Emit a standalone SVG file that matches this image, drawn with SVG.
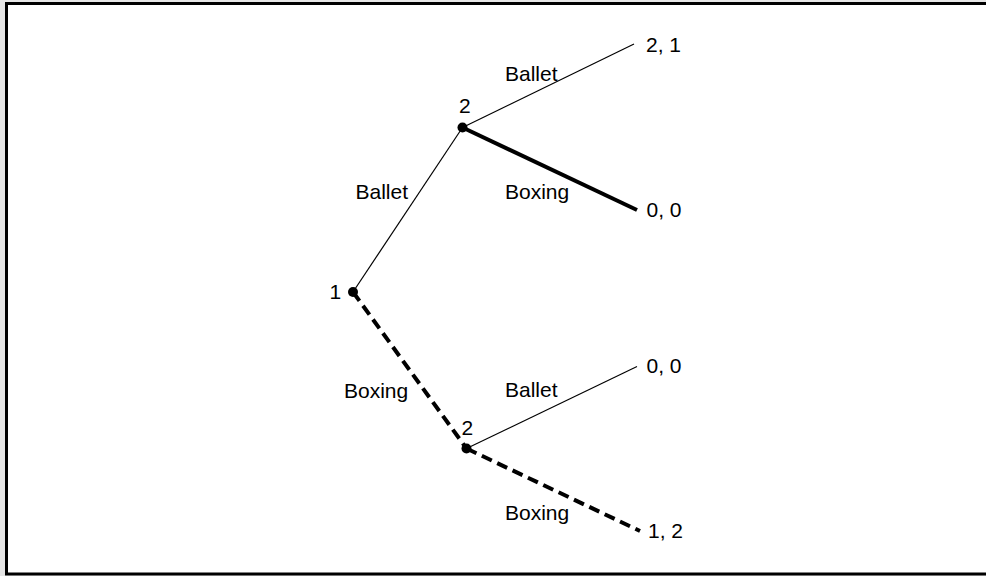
<svg xmlns="http://www.w3.org/2000/svg" width="986" height="576" viewBox="0 0 986 576">
<style>
text{font-family:"Liberation Sans",Arial,sans-serif;font-size:21px;fill:#000}
.thin{stroke:#000;stroke-width:1.2;fill:none}
.bold{stroke:#000;stroke-width:4;fill:none}
.dash{stroke:#000;stroke-width:4;fill:none;stroke-dasharray:11 6}
.dot{fill:#000}
</style>
<rect x="0" y="0" width="986" height="576" fill="#e6e6e6"/>
<rect x="6.5" y="3.5" width="990" height="570.5" fill="#fff" stroke="#000" stroke-width="3"/>
<g id="connectors">
<line class="thin" x1="353" y1="292" x2="462.5" y2="127.5"/>
<line class="thin" x1="462.5" y1="127.5" x2="634" y2="44"/>
<line class="bold" x1="462.5" y1="127.5" x2="637" y2="210"/>
<line class="dash" x1="353" y1="292" x2="466.5" y2="448.5"/>
<line class="thin" x1="466.5" y1="448.5" x2="637" y2="366.5"/>
<line class="dash" x1="466.5" y1="448.5" x2="640" y2="531"/>
</g>
<g id="edge-labels">
<text x="505" y="81">Ballet</text>
<text x="355.5" y="199">Ballet</text>
<text x="505" y="199">Boxing</text>
<text x="344" y="398">Boxing</text>
<text x="505" y="397">Ballet</text>
<text x="505" y="520">Boxing</text>
</g>
<g id="node-1"><circle class="dot" cx="353" cy="292" r="5"/><text x="329.5" y="299">1</text></g>
<g id="node-2a"><circle class="dot" cx="462.5" cy="127.5" r="5"/><text x="459" y="112.5">2</text></g>
<g id="node-2b"><circle class="dot" cx="466.5" cy="448.5" r="5"/><text x="461.5" y="435">2</text></g>
<g id="payoff-21"><text x="646" y="52">2, 1</text></g>
<g id="payoff-00a"><text x="646.5" y="217">0, 0</text></g>
<g id="payoff-00b"><text x="646.5" y="372.5">0, 0</text></g>
<g id="payoff-12"><text x="648" y="538">1, 2</text></g>
</svg>
